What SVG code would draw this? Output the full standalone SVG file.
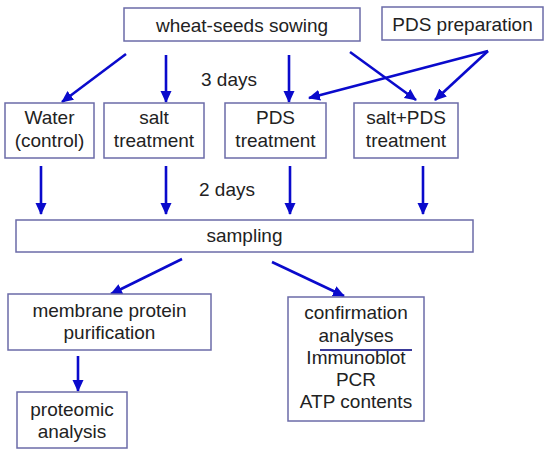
<svg xmlns="http://www.w3.org/2000/svg" width="550" height="456" viewBox="0 0 550 456">
<style>
.box{fill:#fff;stroke:#6b6ba8;stroke-width:1.5}
.t{font-family:"Liberation Sans",Arial,sans-serif;font-size:19px;fill:#222;text-anchor:middle}
.c{stroke:#0a0acc;stroke-width:2.6;fill:none;marker-end:url(#ah)}
</style>
<defs>
<marker id="ah" markerUnits="userSpaceOnUse" markerWidth="12" markerHeight="12" viewBox="0 0 12 12" refX="11" refY="6" orient="auto">
<path d="M0,0.5 L12,6 L0,11.5 Z" fill="#0a0acc"/>
</marker>
</defs>
<rect width="550" height="456" fill="#fff"/>
<g id="connectors">
<line class="c" x1="126" y1="54" x2="62" y2="102"/>
<line class="c" x1="166" y1="55" x2="166" y2="102"/>
<line class="c" x1="289" y1="55" x2="289" y2="102"/>
<line class="c" x1="350" y1="52" x2="416" y2="100"/>
<line class="c" x1="488" y1="51" x2="309" y2="98"/>
<line class="c" x1="488" y1="51" x2="435" y2="100"/>
<line class="c" x1="41" y1="166" x2="41" y2="214"/>
<line class="c" x1="166" y1="166" x2="166" y2="214"/>
<line class="c" x1="290" y1="166" x2="290" y2="214"/>
<line class="c" x1="423" y1="166" x2="423" y2="214"/>
<line class="c" x1="182" y1="259" x2="111" y2="294"/>
<line class="c" x1="272" y1="262" x2="344" y2="296"/>
<line class="c" x1="78" y1="356" x2="78" y2="391"/>
</g>
<g id="wheat">
<rect class="box" x="124" y="8" width="236" height="33"/>
<text class="t" x="242" y="32">wheat-seeds sowing</text>
</g>
<g id="pdsprep">
<rect class="box" x="382" y="7" width="161" height="33"/>
<text class="t" x="462.5" y="31">PDS preparation</text>
</g>
<g id="label3days"><text class="t" x="229" y="86">3 days</text></g>
<g id="water">
<rect class="box" x="5" y="103" width="89" height="55"/>
<text class="t" x="49.5" y="124">Water</text>
<text class="t" x="49.5" y="147">(control)</text>
</g>
<g id="salt">
<rect class="box" x="104" y="103" width="100" height="55"/>
<text class="t" x="154" y="124">salt</text>
<text class="t" x="154" y="147">treatment</text>
</g>
<g id="pds">
<rect class="box" x="225" y="103" width="101" height="55"/>
<text class="t" x="275.5" y="124">PDS</text>
<text class="t" x="275.5" y="147">treatment</text>
</g>
<g id="saltpds">
<rect class="box" x="354" y="103" width="104" height="55"/>
<text class="t" x="406" y="124">salt+PDS</text>
<text class="t" x="406" y="147">treatment</text>
</g>
<g id="label2days"><text class="t" x="227" y="196">2 days</text></g>
<g id="sampling">
<rect class="box" x="16" y="220" width="457" height="32"/>
<text class="t" x="244.5" y="242">sampling</text>
</g>
<g id="membrane">
<rect class="box" x="8" y="294" width="203" height="56"/>
<text class="t" x="109.5" y="317">membrane protein</text>
<text class="t" x="109.5" y="339">purification</text>
</g>
<g id="proteomic">
<rect class="box" x="17" y="392" width="110" height="56"/>
<text class="t" x="72" y="416">proteomic</text>
<text class="t" x="72" y="438">analysis</text>
</g>
<g id="confirmation">
<rect class="box" x="288" y="297" width="136" height="124"/>
<text class="t" x="356" y="319">confirmation</text>
<text class="t" x="356" y="342">analyses</text>
<line x1="320" y1="350" x2="412" y2="350" stroke="#3a3a9a" stroke-width="2"/>
<text class="t" x="356" y="364">Immunoblot</text>
<text class="t" x="356" y="386">PCR</text>
<text class="t" x="356" y="408">ATP contents</text>
</g>
</svg>
